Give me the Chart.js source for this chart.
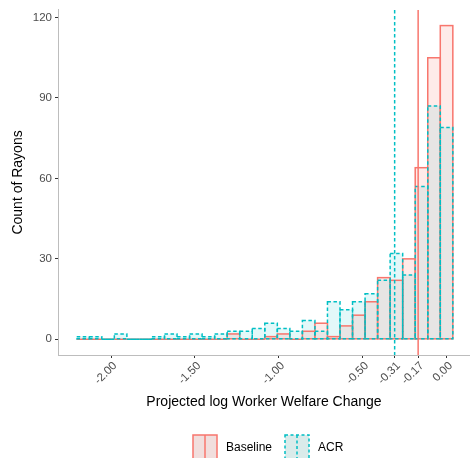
<!DOCTYPE html>
<html>
<head>
<meta charset="utf-8">
<style>
  html, body { margin: 0; padding: 0; background: #ffffff; }
  #wrap { width: 470px; height: 458px; }
</style>
<script src="https://cdn.jsdelivr.net/npm/chart.js@4/dist/chart.umd.min.js"></script>
</head>
<body>
<div id="wrap"><canvas id="chart" width="470" height="458"></canvas></div>
<script>
// Histogram bin centres (log welfare change), 30 equal-width bins
const binCenters = [
  -2.1670, -2.0923, -2.0176, -1.9429, -1.8682, -1.7935, -1.7188, -1.6441, -1.5694, -1.4947,
  -1.4200, -1.3453, -1.2706, -1.1959, -1.1212, -1.0465, -0.9718, -0.8971, -0.8224, -0.7477,
  -0.6730, -0.5983, -0.5236, -0.4489, -0.3742, -0.2995, -0.2248, -0.1501, -0.0754, -0.0007
];

// Number of rayons per bin
const baselineCounts = [
  0, 0, 0, 0, 0, 0, 0, 0, 0, 0,
  0, 0, 2, 0, 0, 1, 2, 0, 3, 6,
  1, 5, 9, 14, 23, 22, 30, 64, 105, 117
];
const acrCounts = [
  1, 1, 0, 2, 0, 0, 1, 2, 1, 2,
  1, 2, 3, 3, 4, 6, 4, 3, 7, 3,
  14, 11, 14, 17, 22, 32, 24, 57, 87, 79
];

// Mean change under each model (drawn as vertical reference lines)
const baselineMean = -0.17;
const acrMean = -0.31;

// Axis tick values
const xTickValues = [-2.00, -1.50, -1.00, -0.50, -0.31, -0.17, 0.00];
const yTickValues = [0, 30, 60, 90, 120];

const seriesNames = ['Baseline', 'ACR'];
const xTitle = 'Projected log Worker Welfare Change';
const yTitle = 'Count of Rayons';

const RED = '#F8766D';
const TEAL = '#00BFC4';
const FONT = '"Liberation Sans", Arial, Helvetica, sans-serif';

function toPoints(counts) {
  return binCenters.map((x, i) => ({ x: x, y: counts[i] }));
}

// Outlines, reference lines, axis titles and legend
const decorations = {
  id: 'decorations',
  afterDatasetsDraw(chart) {
    const ctx = chart.ctx;
    const styles = [
      { color: RED, dash: [] },
      { color: TEAL, dash: [3.5, 2.5] }
    ];
    styles.forEach((st, d) => {
      const meta = chart.getDatasetMeta(d);
      ctx.save();
      ctx.strokeStyle = st.color;
      ctx.lineWidth = 1.5;
      ctx.setLineDash(st.dash);
      meta.data.forEach(el => {
        const p = el.getProps(['x', 'y', 'base', 'width'], true);
        const l = p.x - p.width / 2;
        const t = Math.min(p.y, p.base);
        const h = Math.abs(p.base - p.y);
        ctx.strokeRect(l, t, p.width, h);
      });
      ctx.restore();
    });

    // vertical mean lines
    const xs = chart.scales.x;
    const area = chart.chartArea;
    ctx.save();
    ctx.lineWidth = 1.5;
    ctx.strokeStyle = TEAL;
    ctx.setLineDash([3.5, 2.5]);
    let px = xs.getPixelForValue(acrMean);
    ctx.beginPath(); ctx.moveTo(px, area.top); ctx.lineTo(px, area.bottom); ctx.stroke();
    ctx.strokeStyle = RED;
    ctx.setLineDash([]);
    px = xs.getPixelForValue(baselineMean);
    ctx.beginPath(); ctx.moveTo(px, area.top); ctx.lineTo(px, area.bottom); ctx.stroke();
    ctx.restore();
  },
  afterDraw(chart) {
    const ctx = chart.ctx;
    const area = chart.chartArea;
    ctx.save();
    ctx.fillStyle = '#000000';
    ctx.font = '14px ' + FONT;
    ctx.textAlign = 'center';
    ctx.textBaseline = 'middle';
    ctx.fillText(xTitle, (area.left + area.right) / 2, 402);
    ctx.save();
    ctx.translate(18, (area.top + area.bottom) / 2);
    ctx.rotate(-Math.PI / 2);
    ctx.fillText(yTitle, 0, 0);
    ctx.restore();

    // legend
    const keys = [
      { x: 193, fill: '#F1DEDD', color: RED, dash: [], label: seriesNames[0], tx: 226 },
      { x: 285, fill: '#DAEBEA', color: TEAL, dash: [3, 2.5], label: seriesNames[1], tx: 318 }
    ];
    keys.forEach(k => {
      const top = 435, w = 24, h = 24;
      ctx.fillStyle = k.fill;
      ctx.fillRect(k.x, top, w, h);
      ctx.strokeStyle = k.color;
      ctx.lineWidth = 1.5;
      ctx.setLineDash(k.dash);
      ctx.strokeRect(k.x, top, w, h);
      ctx.beginPath();
      ctx.moveTo(k.x + w / 2, top);
      ctx.lineTo(k.x + w / 2, top + h);
      ctx.stroke();
      ctx.setLineDash([]);
      ctx.fillStyle = '#000000';
      ctx.font = '12px ' + FONT;
      ctx.textAlign = 'left';
      ctx.textBaseline = 'middle';
      ctx.fillText(k.label, k.tx, 448);
    });
    ctx.restore();
  }
};

new Chart(document.getElementById('chart'), {
  type: 'bar',
  data: {
    datasets: [
      {
        label: seriesNames[0],
        data: toPoints(baselineCounts),
        backgroundColor: 'rgba(248,118,109,0.15)',
        borderWidth: 0,
        grouped: false,
        barPercentage: 1,
        categoryPercentage: 1
      },
      {
        label: seriesNames[1],
        data: toPoints(acrCounts),
        backgroundColor: 'rgba(0,191,196,0.11)',
        borderWidth: 0,
        grouped: false,
        barPercentage: 1,
        categoryPercentage: 1
      }
    ]
  },
  options: {
    responsive: false,
    animation: false,
    layout: { padding: { top: 7, right: 0, left: 0, bottom: 0 } },
    plugins: {
      legend: { display: false },
      tooltip: { enabled: false }
    },
    scales: {
      x: {
        type: 'linear',
        min: -2.316,
        max: 0.139,
        offset: false,
        grid: { display: true, drawOnChartArea: false, drawTicks: true, tickLength: 3, color: '#333333', offset: false },
        border: { display: true, color: '#BDBDBD', width: 1 },
        afterBuildTicks(scale) {
          scale.ticks = xTickValues.map(v => ({ value: v }));
        },
        afterFit(scale) { scale.height = 103; },
        ticks: {
          autoSkip: false,
          minRotation: 45,
          maxRotation: 45,
          padding: 1,
          labelOffset: 4,
          color: '#4D4D4D',
          font: { family: FONT, size: 11.5 },
          callback: v => Number(v).toFixed(2)
        }
      },
      y: {
        type: 'linear',
        min: -5.85,
        max: 122.85,
        grid: { display: true, drawOnChartArea: false, drawTicks: true, tickLength: 3, color: '#333333' },
        border: { display: true, color: '#BDBDBD', width: 1 },
        afterBuildTicks(scale) {
          scale.ticks = yTickValues.map(v => ({ value: v }));
        },
        afterFit(scale) { scale.width = 58; },
        ticks: {
          padding: 3,
          color: '#4D4D4D',
          font: { family: FONT, size: 11.5 },
          callback: v => String(v)
        }
      }
    }
  },
  plugins: [decorations]
});
</script>
</body>
</html>
